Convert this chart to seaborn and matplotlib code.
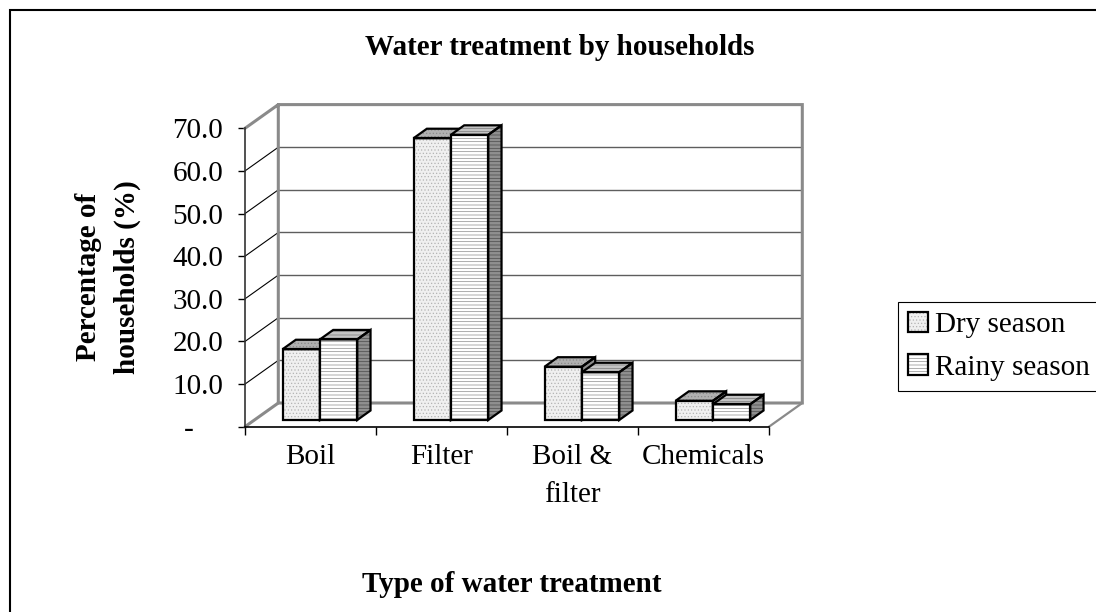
import numpy as np
import pandas as pd
import seaborn as sns
import matplotlib.pyplot as plt
from matplotlib.patches import Polygon, Rectangle, Patch
from matplotlib.legend_handler import HandlerTuple

# datos
treatments = ['Boil', 'Filter', 'Boil &\nfilter', 'Chemicals']
seasons = ['Dry season', 'Rainy season']
dry_season = [16.6, 66.1, 12.5, 4.5]
rainy_season = [18.9, 66.9, 11.2, 3.7]
y_ticks = [0, 10, 20, 30, 40, 50, 60, 70]

df = pd.DataFrame({
    'treatment': treatments * 2,
    'season': [seasons[0]] * len(treatments) + [seasons[1]] * len(treatments),
    'pct': dry_season + rainy_season,
})

sns.set_theme(style='white')
plt.rcParams['font.family'] = ['Liberation Serif', 'DejaVu Serif']
plt.rcParams['hatch.linewidth'] = 0.5
plt.rcParams['text.color'] = 'black'
plt.rcParams['xtick.color'] = 'black'
plt.rcParams['ytick.color'] = 'black'
plt.rcParams['xtick.labelcolor'] = 'black'
plt.rcParams['ytick.labelcolor'] = 'black'

W, H = 1096, 612
FS = 21
fig = plt.figure(figsize=(W / 100, H / 100), dpi=100)
# el eje es el plano frontal del "3D"
ax = fig.add_axes([245 / W, 1 - 426.7 / H, 524 / W, 298.4 / H])

sns.barplot(data=df, x='treatment', y='pct', hue='season', order=treatments,
            hue_order=seasons, width=0.57, palette=['#f0f0f0', 'white'],
            linewidth=0, errorbar=None, legend=False, ax=ax)
ax.set_xlim(-0.5, len(treatments) - 0.5)
ax.set_ylim(y_ticks[0], y_ticks[-1])
ax.set_xlabel('')
ax.set_ylabel('')


def px(dx, dy):
    """desplazamiento en pixeles -> unidades de datos"""
    x0, x1 = ax.get_xlim()
    y0, y1 = ax.get_ylim()
    pos = ax.get_position()
    return dx * (x1 - x0) / (pos.width * W), dy * (y1 - y0) / (pos.height * H)


bar_off = px(9.4, 6.7)     # plano de las barras
back_off = px(33.3, 23.7)  # pared del fondo
depth = px(13.3, 9.5)      # profundidad de cada barra

styles = {
    'Dry season': {'front': ('#f0f0f0', '.....', '#b4b4b4'),
                   'top': ('#b0b0b0', '.....', '#8a8a8a'),
                   'side': ('#8c8c8c', '', '#8c8c8c')},
    'Rainy season': {'front': ('#ffffff', '-----', '#8c8c8c'),
                     'top': ('#c4c4c4', '-----', '#7a7a7a'),
                     'side': ('#8f8f8f', '-----', '#4a4a4a')},
}


def face(verts, style, z):
    fc, hatch, hc = style
    ax.add_patch(Polygon(verts, facecolor=fc, edgecolor=hc, hatch=hatch, lw=0,
                         zorder=z, clip_on=False))
    ax.add_patch(Polygon(verts, fill=False, edgecolor='black', lw=1.6,
                         joinstyle='miter', zorder=z + 0.5, clip_on=False))


for j, (season, cont) in enumerate(zip(seasons, ax.containers)):
    st = styles[season]
    z = 3 + j
    for bar in cont.patches:
        x0 = bar.get_x() + bar_off[0]
        y0 = bar.get_y() + bar_off[1]
        x1, y1 = x0 + bar.get_width(), y0 + bar.get_height()
        dx, dy = depth
        bar.set_x(x0)
        bar.set_y(y0)
        bar.set_facecolor(st['front'][0])
        bar.set_edgecolor(st['front'][2])
        bar.set_hatch(st['front'][1])
        bar.set_zorder(z)
        bar.set_clip_on(False)
        ax.add_patch(Rectangle((x0, y0), x1 - x0, y1 - y0, fill=False, edgecolor='black',
                               lw=1.6, joinstyle='miter', zorder=z + 0.5, clip_on=False))
        face([(x0, y1), (x1, y1), (x1 + dx, y1 + dy), (x0 + dx, y1 + dy)], st['top'], z)
        face([(x1, y0), (x1 + dx, y0 + dy), (x1 + dx, y1 + dy), (x1, y1)], st['side'], z)

# paredes y piso
bx, by = back_off
xl, xr = ax.get_xlim()
ymax = y_ticks[-1]
wall_gray = '#8a8a8a'
for v in y_ticks[1:-1]:
    ax.plot([xl + bx, xr + bx], [v + by, v + by], color='#5e5e5e', lw=1.0, zorder=1, clip_on=False)
    ax.plot([xl, xl + bx], [v, v + by], color='black', lw=0.8, zorder=1, clip_on=False)
ax.plot([xl, xl + bx, xr + bx, xr + bx, xl + bx, xl + bx],
        [ymax, ymax + by, ymax + by, by, by, ymax + by],
        color=wall_gray, lw=2.2, zorder=1.5, clip_on=False, solid_joinstyle='miter')
ax.plot([xl, xl + bx], [0, by], color=wall_gray, lw=2.2, zorder=1.5, clip_on=False)
ax.plot([xr, xr + bx], [0, by], color=wall_gray, lw=1.6, zorder=1.5, clip_on=False)

# ejes frontales
for side in ['top', 'right']:
    ax.spines[side].set_visible(False)
ax.spines['left'].set_color('#333333')
ax.spines['left'].set_linewidth(1.2)
ax.spines['bottom'].set_color('black')
ax.spines['bottom'].set_linewidth(1.2)

ax.set_yticks(y_ticks)
ax.set_yticklabels([f'{v:.1f}' if v else '-    ' for v in y_ticks], fontsize=FS)
ax.tick_params(axis='y', left=True, direction='out', length=4.8, width=1, color='black', pad=11)

ax.set_xticks(np.arange(len(treatments) + 1) - 0.5)
ax.set_xticklabels([])
ax.set_xticks(np.arange(len(treatments)), minor=True)
ax.set_xticklabels(treatments, minor=True, fontsize=FS, linespacing=1.6)
ax.tick_params(axis='x', which='major', bottom=True, direction='out', length=6, width=1, color='black')
ax.tick_params(axis='x', which='minor', bottom=True, length=0, pad=12.5)

# textos
fig.text(560 / W, 1 - 55 / H, 'Water treatment by households', ha='center', va='baseline',
         fontsize=FS, fontweight='bold')
fig.text(512 / W, 1 - 591.7 / H, 'Type of water treatment', ha='center', va='baseline',
         fontsize=FS, fontweight='bold')
fig.text(108 / W, 1 - 277 / H, 'Percentage of\nhouseholds (%)', ha='center', va='center',
         rotation=90, fontsize=FS, fontweight='bold', linespacing=1.6, multialignment='center')

# leyenda
handles = []
for season in seasons:
    fc, hatch, hc = styles[season]['front']
    handles.append((Patch(facecolor=fc, edgecolor=hc, hatch=hatch, lw=0),
                    Patch(fill=False, edgecolor='black', lw=1.6)))
leg = fig.legend(handles=handles, labels=seasons, handler_map={tuple: HandlerTuple(ndivide=1, pad=0)},
                 loc='upper left', bbox_to_anchor=(898 / W, 1 - 302 / H), frameon=True, fancybox=False,
                 edgecolor='black', framealpha=1, fontsize=FS, handlelength=0.68, handleheight=0.68,
                 handletextpad=0.25, borderpad=0.35, labelspacing=0.55, borderaxespad=0)
leg.get_frame().set_linewidth(0.8)

# marco exterior
fig.add_artist(Rectangle((9.5 / W, -0.1), 1.2, 1.1 - 10 / H, fill=False, edgecolor='black',
                         lw=1.5, transform=fig.transFigure, clip_on=False))

fig.savefig('out.png', dpi=100)
